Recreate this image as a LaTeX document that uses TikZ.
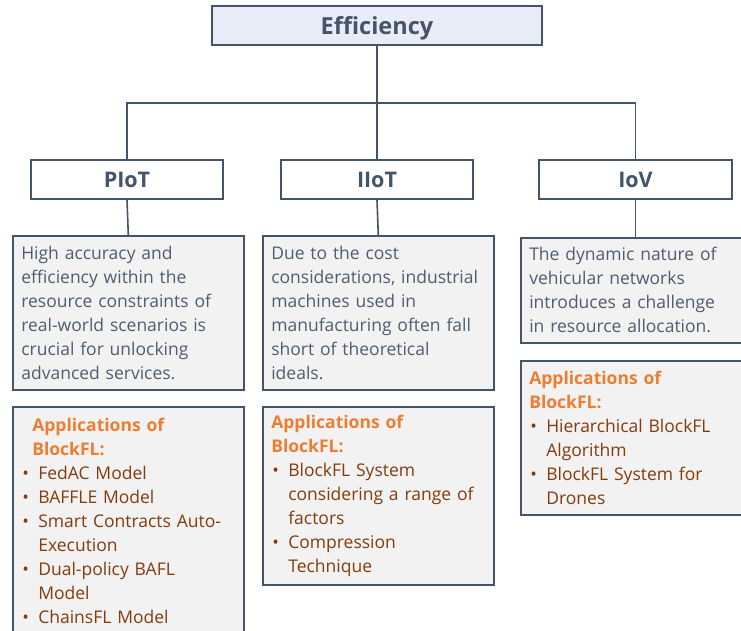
\documentclass[tikz,border=0pt]{standalone}
\usepackage{fontspec}
\setmainfont{Open Sans}
\definecolor{lineblue}{HTML}{44546A}
\definecolor{desctext}{HTML}{4F5D70}
\definecolor{effill}{HTML}{E8ECF6}
\definecolor{boxfill}{HTML}{F2F2F2}
\definecolor{apptitle}{HTML}{ED7D31}
\definecolor{appitem}{HTML}{843C0C}
\newcommand\bul{\makebox[17pt][l]{\hspace{1pt}\textbullet}}
\newcommand\ind{\hspace*{17pt}}
\newcommand\apptitle[1][0pt]{{\color{apptitle}\bfseries\hspace*{#1}Applications of\\\hspace*{#1}BlockFL:}}
\tikzset{
  conn/.style={draw=lineblue, line width=1.6pt},
  topbox/.style={draw=lineblue, line width=1.6pt, fill=effill, minimum width=330pt, minimum height=39pt, inner sep=0pt, text height=22pt, text depth=3pt, text=lineblue, font={\fontsize{23.5}{28}\selectfont\bfseries}},
  catbox/.style={draw=lineblue, line width=1.6pt, fill=white, minimum width=192pt, minimum height=39pt, inner sep=0pt, text height=20pt, text depth=5pt, text=lineblue, font={\fontsize{21.5}{26}\selectfont\bfseries}},
  descbox/.style={draw=lineblue, line width=1.6pt, fill=boxfill, anchor=north west, inner xsep=8.5pt, inner ysep=0pt, align=left, text=desctext, font={\fontsize{17.5}{24}\selectfont}},
  appbox/.style={descbox, text=appitem},
}
\begin{document}
\begin{tikzpicture}[x=1pt, y=-1pt]
\useasboundingbox (0,0) rectangle (741,631);
\clip (0,0) rectangle (741,631);
\fill[white] (0,0) rectangle (741,631);

\node[topbox] (eff) at (377,25.5) {Efficiency};
\node[catbox] (piot) at (127,179.5) {PIoT};
\node[catbox] (iiot) at (377,179.5) {IIoT};
\node[catbox, minimum width=193pt] (iov) at (635.5,179.5) {IoV};

\node[descbox, text width=214pt, minimum width=231pt, minimum height=154pt] (d1) at (12,235)
  {High accuracy and\\efficiency within the\\resource constraints of\\real-world scenarios is\\crucial for unlocking\\advanced services.};
\node[descbox, text width=214pt, minimum width=231pt, minimum height=154pt] (d2) at (262,235)
  {Due to the cost\\considerations, industrial\\machines used in\\manufacturing often fall\\short of theoretical\\ideals.};
\node[descbox, text width=214pt, minimum width=228pt, minimum height=105pt] (d3) at (520,237)
  {The dynamic nature of\\vehicular networks\\introduces a challenge\\in resource allocation.};

\node[appbox, text width=214pt, minimum width=231pt, minimum height=228pt] (a1) at (12,406)
  {\apptitle[11pt]\\\bul FedAC Model\\\bul BAFFLE Model\\\bul Smart Contracts Auto-\\\ind Execution\\\bul Dual-policy BAFL\\\ind Model\\\bul ChainsFL Model};
\node[appbox, text width=214pt, minimum width=231pt, minimum height=178pt] (a2) at (262,406)
  {\apptitle\\\bul BlockFL System\\\ind considering a range of\\\ind factors\\\bul Compression\\\ind Technique};
\node[appbox, text width=214pt, minimum width=228pt, minimum height=154pt] (a3) at (520,360)
  {\apptitle\\\bul Hierarchical BlockFL\\\ind Algorithm\\\bul BlockFL System for\\\ind Drones};

\coordinate (jl) at (127,103);
\coordinate (jr) at (635.5,103);
\draw[conn] (eff.south) -- (iiot.north);
\draw[conn] (piot.north) -- (jl) -- (jr) -- (iov.north);
\draw[conn] (piot.south) -- (d1.north);
\draw[conn] (iiot.south) -- (d2.north);
\draw[conn] (iov.south) -- (iov.south |- d3.north);
\end{tikzpicture}
\end{document}
